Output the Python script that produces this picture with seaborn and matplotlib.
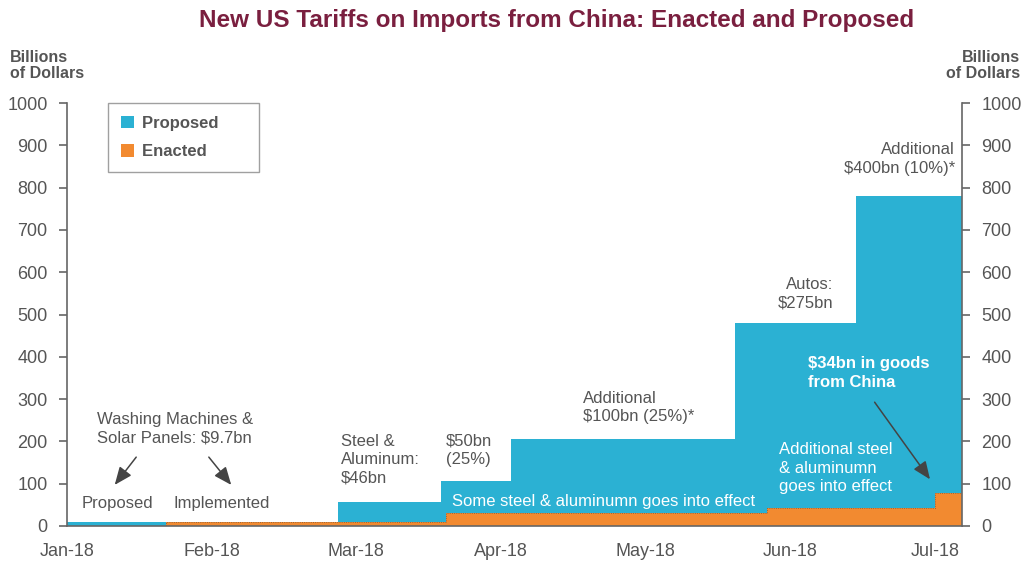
import matplotlib
matplotlib.use("Agg")
import matplotlib.pyplot as plt
import seaborn as sns
import numpy as np
import pandas as pd

# ---- data (x in months since Jan-18) ----
month_labels = ["Jan-18", "Feb-18", "Mar-18", "Apr-18", "May-18", "Jun-18", "Jul-18"]
proposed_x = [0.0, 0.684, 1.873, 2.585, 3.068, 4.616, 5.453, 6.185]
proposed_total = [9.7, 9.7, 55.7, 105.7, 205.7, 480.7, 780.0, 780.0]
enacted_x = [0.0, 0.684, 2.619, 4.838, 5.999, 6.185]
enacted_total = [0.0, 9.7, 30.0, 43.0, 78.0, 78.0]
y_ticks = [0, 100, 200, 300, 400, 500, 600, 700, 800, 900, 1000]

CYAN = "#2bb1d3"
ORANGE = "#f28a30"
GRAY = "#555555"
AXC = "#666666"

sns.set_theme(style="white")
plt.rcParams['font.family'] = ['Liberation Sans', 'DejaVu Sans']

fig = plt.figure(figsize=(10.24, 5.63), dpi=100)
ax = fig.add_axes([67/1024, 1-526/563, (962-67)/1024, (526-103)/563])

prop_df = pd.DataFrame({"x": proposed_x, "y": proposed_total})
enac_df = pd.DataFrame({"x": enacted_x, "y": enacted_total})

ax.fill_between(prop_df["x"], 0, prop_df["y"], step="post", color=CYAN, lw=0, label="Proposed")
ax.fill_between(enac_df["x"], 0, enac_df["y"], step="post", color=ORANGE, lw=0, label="Enacted")
sns.lineplot(data=enac_df, x="x", y="y", drawstyle="steps-post", color="#7a5a40",
             lw=0.6, linestyle=":", ax=ax, legend=False)

ax.set_xlim(0, 6.185)
ax.set_ylim(0, 1000)
ax.set_xticks(range(len(month_labels)))
ax.set_xticklabels(month_labels)
ax.set_yticks(y_ticks)
ax.set_xlabel("")
ax.set_ylabel("")

ax.spines["top"].set_visible(False)
for s in ["left", "right", "bottom"]:
    ax.spines[s].set_color(AXC)
    ax.spines[s].set_linewidth(1.2)
ax.tick_params(axis="both", colors=AXC, labelcolor=GRAY, labelsize=13,
               direction="out", length=6, width=1.2)
ax.tick_params(axis="x", pad=6)
ax.tick_params(axis="y", pad=8)
ax.tick_params(axis="y", which="both", left=True, right=True, labelleft=True, labelright=True)

# legend
leg = ax.legend(loc="upper left", bbox_to_anchor=(0.046, 1.0), borderaxespad=0,
                frameon=True, fancybox=False, edgecolor="#888888",
                handlelength=0.8, handleheight=0.8, borderpad=0.75, labelspacing=0.8,
                handletextpad=0.5, prop={"weight": "bold", "size": 12})
for t in leg.get_texts():
    t.set_color(GRAY)
    t.set_text(t.get_text() + "      ")
leg.get_frame().set_linewidth(1.0)

LS = 1.3
# annotations
ax.text(0.207, 270, "Washing Machines &\nSolar Panels: $9.7bn", ha="left", va="top",
        fontsize=12, color=GRAY, linespacing=LS)
ax.annotate("", xy=(0.318, 92), xytext=(0.49, 168),
            arrowprops=dict(arrowstyle="-|>,head_length=0.6,head_width=0.25",
                            color="#444444", lw=1.1, mutation_scale=18))
ax.annotate("", xy=(1.147, 92), xytext=(0.968, 168),
            arrowprops=dict(arrowstyle="-|>,head_length=0.6,head_width=0.25",
                            color="#444444", lw=1.1, mutation_scale=18))
ax.text(0.346, 54, "Proposed", ha="center", va="center", fontsize=12, color=GRAY)
ax.text(1.071, 54, "Implemented", ha="center", va="center", fontsize=12, color=GRAY)
ax.text(1.894, 218, "Steel &\nAluminum:\n$46bn", ha="left", va="top", fontsize=12,
        color=GRAY, linespacing=LS)
ax.text(2.619, 218, "$50bn\n(25%)", ha="left", va="top", fontsize=12, color=GRAY,
        linespacing=LS)
ax.text(2.661, 59, "Some steel & aluminumn goes into effect", ha="left", va="center",
        fontsize=12, color="white")
ax.text(3.566, 320, "Additional\n$100bn (25%)*", ha="left", va="top", fontsize=12,
        color=GRAY, linespacing=LS)
ax.text(5.294, 589, "Autos:\n$275bn", ha="right", va="top", fontsize=12, color=GRAY,
        linespacing=LS, multialignment="right")
ax.text(6.137, 908, "Additional\n$400bn (10%)*", ha="right", va="top", fontsize=12,
        color=GRAY, linespacing=LS, multialignment="right")
ax.text(5.121, 402, "$34bn in goods\nfrom China", ha="left", va="top", fontsize=12,
        color="white", fontweight="bold", linespacing=LS)
ax.annotate("", xy=(5.975, 105), xytext=(5.57, 298),
            arrowprops=dict(arrowstyle="-|>,head_length=0.6,head_width=0.25",
                            color="#444444", lw=1.1, mutation_scale=18))
ax.text(4.921, 198, "Additional steel\n& aluminumn\ngoes into effect", ha="left", va="top",
        fontsize=12, color="white", linespacing=LS)

# axis titles and chart title
fig.text(10/1024, 1-50/563, "Billions\nof Dollars", ha="left", va="top", fontsize=11.5,
         fontweight="bold", color=GRAY, linespacing=1.1)
fig.text(1020/1024, 1-50/563, "Billions\nof Dollars", ha="right", va="top", fontsize=11.5,
         fontweight="bold", color=GRAY, linespacing=1.1, multialignment="right")
fig.text(557/1024, 1-21/563, "New US Tariffs on Imports from China: Enacted and Proposed",
         ha="center", va="center", fontsize=17.5, fontweight="bold", color="#7a1f3f")

fig.savefig("out.png", dpi=100)
